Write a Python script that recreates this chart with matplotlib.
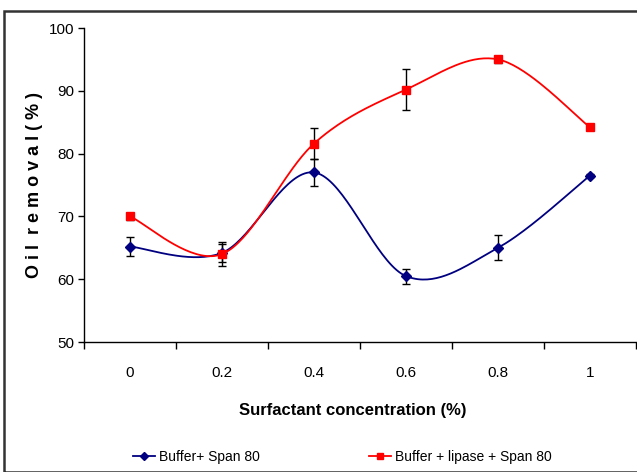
import numpy as np
import matplotlib
matplotlib.use("Agg")
import matplotlib.pyplot as plt
from matplotlib.patches import Rectangle
from matplotlib.lines import Line2D

plt.rcParams['font.family'] = ['Liberation Sans Narrow', 'Liberation Sans', 'DejaVu Sans']

categories = ["0", "0.2", "0.4", "0.6", "0.8", "1"]
buffer_span = [65.2, 64.2, 77.0, 60.5, 65.0, 76.5]
buffer_span_err = [1.5, 1.4, 2.1, 1.2, 2.0, 0.3]
lipase_span = [70.0, 64.0, 81.6, 90.2, 95.0, 84.2]
lipase_span_err = [0.6, 1.9, 2.4, 3.3, 0.6, 0.4]
y_ticks = [50, 60, 70, 80, 90, 100]
series_names = ['Buffer+ Span 80', 'Buffer + lipase + Span 80']


def smooth(xs, ys, n=40):
    xs = np.asarray(xs, float)
    ys = np.asarray(ys, float)
    P = np.column_stack([xs, ys])
    Pe = np.vstack([P[0], P, P[-1]])
    out = []
    t = np.linspace(0, 1, n)[:, None]
    for i in range(len(P) - 1):
        p0, p1, p2, p3 = Pe[i], Pe[i + 1], Pe[i + 2], Pe[i + 3]
        c1 = p1 + (p2 - p0) / 6.0
        c2 = p2 - (p3 - p1) / 6.0
        seg = ((1 - t) ** 3) * p1 + 3 * ((1 - t) ** 2) * t * c1 + 3 * (1 - t) * t ** 2 * c2 + t ** 3 * p2
        out.append(seg if i == 0 else seg[1:])
    s = np.vstack(out)
    return s[:, 0], s[:, 1]


W, H = 637, 472
fig = plt.figure(figsize=(W / 100, H / 100), dpi=100)
ax = fig.add_axes([84 / W, (H - 342) / H, (636 - 84) / W, (342 - 28) / H])

x = np.arange(len(categories))
blue = '#000080'
red = '#FF0000'

sx, sy = smooth(x, buffer_span)
ax.plot(sx, sy, color=blue, lw=1.3, zorder=3)
sx, sy = smooth(x, lipase_span)
ax.plot(sx, sy, color=red, lw=1.3, zorder=3)

ax.errorbar(x, buffer_span, yerr=buffer_span_err, fmt='none', ecolor='black',
            elinewidth=1.0, capsize=3, capthick=1.0, zorder=4)
ax.errorbar(x, lipase_span, yerr=lipase_span_err, fmt='none', ecolor='black',
            elinewidth=1.0, capsize=3, capthick=1.0, zorder=4)
ax.plot(x, buffer_span, linestyle='none', marker='D', ms=5, color=blue, zorder=5)
ax.plot(x, lipase_span, linestyle='none', marker='s', ms=6, color=red, zorder=5)

ax.set_xlim(-0.5, len(categories) - 0.5)
ax.set_ylim(50, 100)
ax.set_yticks(y_ticks)
ax.set_yticklabels([str(v) for v in y_ticks], fontsize=11)
ax.set_xticks(np.arange(-0.5, len(categories)))
ax.set_xticklabels([])
ax.set_xticks(x, minor=True)
ax.set_xticklabels(categories, minor=True, fontsize=11)
ax.tick_params(axis='x', which='major', direction='out', length=5, width=1)
ax.tick_params(axis='x', which='minor', length=0, pad=17)
ax.tick_params(axis='y', direction='out', length=4, width=1, pad=3)
for s in ['top', 'right']:
    ax.spines[s].set_visible(False)
for s in ['left', 'bottom']:
    ax.spines[s].set_linewidth(1.0)

fig.text(353 / W, 1 - 411 / H, 'Surfactant concentration (%)', fontsize=12,
         fontweight='bold', ha='center', va='center')
fig.text(35 / W, 1 - 185 / H, 'O i l  r e m o v a l ( % )', fontsize=13,
         fontweight='bold', ha='center', va='center', rotation=90)

h_blue = Line2D([], [], color=blue, marker='D', ms=4, lw=1.3)
h_red = Line2D([], [], color=red, marker='s', ms=5, lw=1.3)
leg1 = fig.legend([h_blue], [series_names[0]], loc='center left',
                  bbox_to_anchor=(133 / W, 1 - 457 / H), frameon=False, fontsize=10,
                  handlelength=1.6, handletextpad=0.3, borderpad=0, borderaxespad=0)
leg2 = fig.legend([h_red], [series_names[1]], loc='center left',
                  bbox_to_anchor=(369 / W, 1 - 457 / H), frameon=False, fontsize=10,
                  handlelength=1.6, handletextpad=0.3, borderpad=0, borderaxespad=0)

fig.patches.append(Rectangle((4 / W, 0), 1.2, 1 - 11 / H, transform=fig.transFigure,
                             fill=False, edgecolor='#333333', lw=1.8))

fig.savefig('out.png', dpi=100)
